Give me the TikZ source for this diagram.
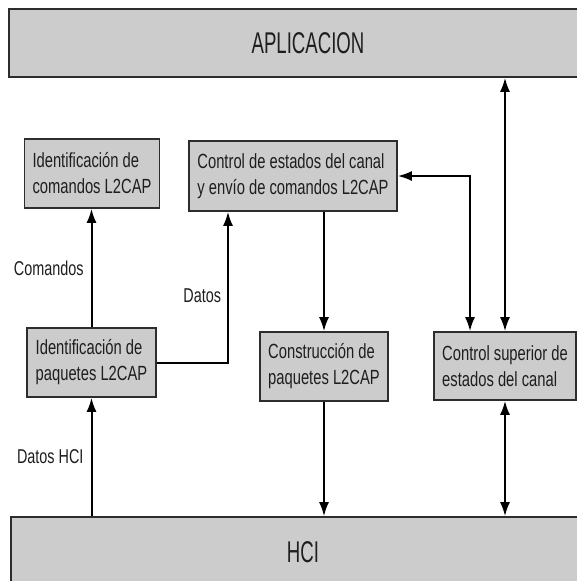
\documentclass[tikz,border=0pt]{standalone}
\usepackage{fontspec}
\setmainfont{Liberation Sans}[FakeStretch=0.72]
\newfontfamily\barfont{Liberation Sans}[FakeStretch=0.62]
\usetikzlibrary{arrows.meta,positioning}
\definecolor{l2gray}{RGB}{204,204,204}
\definecolor{l2border}{RGB}{45,45,45}
\definecolor{l2text}{RGB}{30,30,30}
\tikzstyle{arrow} = [line width=2pt,-{Latex[length=14pt,width=10pt]}]
\tikzstyle{dblarrow} = [line width=2pt,{Latex[length=14pt,width=10pt]}-{Latex[length=14pt,width=10pt]}]
\tikzstyle{layerbar} = [rectangle, draw=l2border, fill=l2gray, line width=1.6pt, text=l2text, font=\barfont\fontsize{30}{36}\selectfont]
\tikzstyle{blockbox} = [rectangle, draw=l2border, fill=l2gray, line width=1.6pt, text=l2text, align=left, inner xsep=8pt, font=\fontsize{20.5}{26}\selectfont]
\tikzstyle{flowlabel} = [inner sep=0pt, anchor=east, text=l2text, font=\fontsize{20}{24}\selectfont]

\begin{document}
\begin{tikzpicture}[x=1pt, y=-1pt]
\useasboundingbox (0,0) rectangle (576,581);
% Layers
\node[layerbar, minimum width=598pt, minimum height=68pt] (app) at (308,43) {APLICACION};
\node[layerbar, minimum width=584pt, minimum height=70pt] (hci) at (303,552) {HCI};

% L2CAP blocks
\node[blockbox, minimum width=134pt, minimum height=69pt] (cmdid) at (92,173.5) {Identificación de\\comandos L2CAP};
\node[blockbox, minimum width=208pt, minimum height=70pt] (chctl) at (293,176) {Control de estados del canal\\y envío de comandos L2CAP};
\node[blockbox, minimum width=129pt, minimum height=69pt] (pktid) at (91.5,362.5) {Identificación de\\paquetes L2CAP};
\node[blockbox, minimum width=128pt, minimum height=69pt] (pktbld) at (324,366.5) {Construcción de\\paquetes L2CAP};
\node[blockbox, minimum width=136pt, minimum height=68pt] (supctl) at (505,366) {Control superior de\\estados del canal};

% Flows
\draw[arrow] (hci.north -| pktid.south) -- (pktid.south) node[flowlabel, midway, xshift=-7pt] {Datos HCI};
\draw[arrow] (pktid.north) -- (pktid.north |- cmdid.south) node[flowlabel, midway, xshift=-7pt] {Comandos};
\draw[arrow] (pktid.east) -| ([xshift=-65pt]chctl.south) node[flowlabel, pos=0.72, xshift=-6pt] {Datos};
\draw[arrow] (chctl.south -| pktbld.north) -- (pktbld.north);
\draw[arrow] (pktbld.south) -- (pktbld.south |- hci.north);
\draw[dblarrow] (chctl.east) -| ([xshift=-35pt]supctl.north);
\draw[dblarrow] (supctl.north) -- (supctl.north |- app.south);
\draw[dblarrow] (supctl.south) -- (supctl.south |- hci.north);
\end{tikzpicture}
\end{document}
